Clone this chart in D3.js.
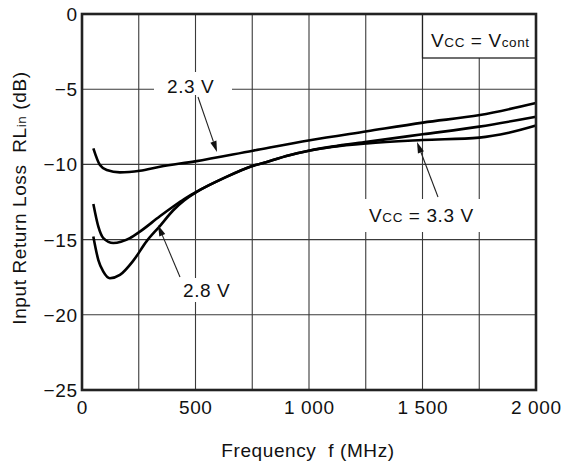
<!DOCTYPE html>
<html><head><meta charset="utf-8">
<script src="https://cdn.jsdelivr.net/npm/d3@7"></script>
<style>body{margin:0;background:#fff}svg{display:block}text{font-family:"Liberation Sans",Arial,sans-serif;fill:#111;letter-spacing:0.6px}</style>
</head><body><svg id="c" width="565" height="466"></svg>
<script>
// Data (frequency MHz, return loss dB)
const freq23 = [50, 79, 109, 167, 255, 343, 498, 753, 1004, 1256, 1502, 1753, 2000];
const rl23   = [-8.93, -10.04, -10.37, -10.53, -10.42, -10.15, -9.8, -9.09, -8.4, -7.8, -7.22, -6.72, -5.92];
const freq28 = [50, 72, 94, 123, 167, 226, 285, 343, 402, 450, 500, 560, 622, 747, 828, 900, 1004, 1100, 1255, 1500, 1750, 2000];
const rl28   = [-14.8, -16.36, -17.13, -17.57, -17.35, -16.4, -15.1, -14.1, -13.05, -12.4, -11.88, -11.38, -10.93, -10.12, -9.78, -9.44, -9.07, -8.82, -8.5, -8.0, -7.49, -6.83];
const freq33 = [50, 72, 94, 138, 211, 255, 343, 402, 450, 500, 560, 622, 747, 828, 900, 1004, 1100, 1255, 1500, 1750, 1880, 2000];
const rl33   = [-12.63, -14.14, -14.9, -15.23, -14.9, -14.47, -13.45, -12.8, -12.3, -11.86, -11.38, -10.93, -10.12, -9.78, -9.44, -9.07, -8.84, -8.6, -8.38, -8.22, -7.9, -7.42];
const xTicks = [0, 500, 1000, 1500, 2000];
const xTickLabels = ["0", "500", "1 000", "1 500", "2 000"];
const xGrid = [250, 500, 750, 1000, 1250, 1500, 1750];
const yTicks = [0, -5, -10, -15, -20, -25];
const yTickLabels = ["0", "\u22125", "\u221210", "\u221215", "\u221220", "\u221225"];

const svg = d3.select("#c");
const x = d3.scaleLinear().domain([0, 2000]).range([82, 536]);
const y = d3.scaleLinear().domain([-25, 0]).range([390, 14]);

// gridlines
const g = svg.append("g").attr("stroke", "#3a3a3a").attr("stroke-width", 1.1);
xGrid.forEach(v => g.append("line").attr("x1", x(v)).attr("x2", x(v)).attr("y1", y(0)).attr("y2", y(-25)));
yTicks.slice(1, 5).forEach(v => g.append("line").attr("x1", x(0)).attr("x2", x(2000)).attr("y1", y(v)).attr("y2", y(v)));

// label backgrounds
const bg = [[154, 72, 78, 23], [358, 199, 129, 33], [178, 278, 60, 24]];
bg.forEach(b => svg.append("rect").attr("x", b[0]).attr("y", b[1]).attr("width", b[2]).attr("height", b[3]).attr("fill", "#fff"));

// legend box
svg.append("rect").attr("x", x(1500)).attr("y", y(0)).attr("width", x(2000) - x(1500)).attr("height", 44)
  .attr("fill", "#fff").attr("stroke", "#222").attr("stroke-width", 1.3);

// curves
const line = d3.line().x(d => x(d[0])).y(d => y(d[1])).curve(d3.curveMonotoneX);
[[freq23, rl23], [freq28, rl28], [freq33, rl33]].forEach(([f, r]) => {
  svg.append("path").datum(f.map((v, i) => [v, r[i]])).attr("d", line)
    .attr("fill", "none").attr("stroke", "#000").attr("stroke-width", 2.6).attr("stroke-linejoin", "round");
});

// arrows
function arrow(x1, y1, x2, y2) {
  const ang = Math.atan2(y2 - y1, x2 - x1), L = 11, W = 3.2;
  const bx = x2 - L * Math.cos(ang), by = y2 - L * Math.sin(ang);
  svg.append("line").attr("x1", x1).attr("y1", y1).attr("x2", bx).attr("y2", by).attr("stroke", "#222").attr("stroke-width", 1.1);
  const px = -Math.sin(ang) * W, py = Math.cos(ang) * W;
  svg.append("path").attr("d", `M${x2},${y2}L${bx + px},${by + py}L${bx - px},${by - py}Z`).attr("fill", "#111");
}
arrow(198, 97, 217, 152);
arrow(180, 277, 158, 225);
arrow(438, 197, 417, 142);

// frame
svg.append("rect").attr("x", x(0)).attr("y", y(0)).attr("width", x(2000) - x(0)).attr("height", y(-25) - y(0))
  .attr("fill", "none").attr("stroke", "#222").attr("stroke-width", 2.6);

// tick labels
svg.selectAll(".xt").data(xTicks).enter().append("text").attr("x", d => x(d) + 0.3).attr("y", 414)
  .attr("text-anchor", "middle").attr("font-size", 19).text((d, i) => xTickLabels[i]);
svg.selectAll(".yt").data(yTicks).enter().append("text").attr("x", 77.6).attr("y", d => y(d) + 7)
  .attr("text-anchor", "end").attr("font-size", 19).text((d, i) => yTickLabels[i]);

// axis titles
svg.append("text").attr("x", 308).attr("y", 457).attr("text-anchor", "middle").attr("font-size", 19)
  .text("Frequency\u00a0\u00a0f (MHz)");
const yt = svg.append("text").attr("transform", "translate(26,198) rotate(-90)").attr("text-anchor", "middle").attr("font-size", 19);
yt.append("tspan").text("Input Return Loss\u00a0\u00a0RL");
yt.append("tspan").attr("font-size", 13.5).text("in");
yt.append("tspan").text(" (dB)");

// annotations
svg.append("text").attr("x", 167).attr("y", 93).attr("font-size", 19).text("2.3 V");
svg.append("text").attr("x", 183).attr("y", 297).attr("font-size", 19).text("2.8 V");
const t33 = svg.append("text").attr("x", 369).attr("y", 222).attr("font-size", 19);
t33.append("tspan").text("V");
t33.append("tspan").attr("font-size", 13.5).text("CC");
t33.append("tspan").text(" = 3.3 V");
const tl = svg.append("text").attr("x", 431).attr("y", 47).attr("font-size", 19);
tl.append("tspan").text("V");
tl.append("tspan").attr("font-size", 13.5).text("CC");
tl.append("tspan").text(" = V");
tl.append("tspan").attr("font-size", 13.5).text("cont");
</script></body></html>
